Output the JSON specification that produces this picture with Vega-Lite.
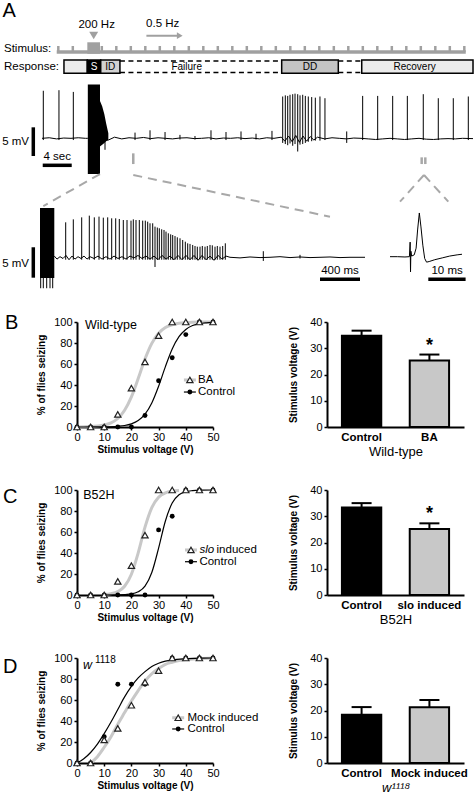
{
"$schema":"https://vega.github.io/schema/vega-lite/v6.json",
"padding":0,
"background":"white",
"bounds":"flush",
"spacing":32,
"config":{"font":"Liberation Sans","view":{"stroke":null},
 "axis":{"domainColor":"black","domainWidth":2,"tickColor":"black","tickWidth":1.5,"tickSize":3,"labelColor":"black","labelFontSize":11,"labelPadding":2,"labelOverlap":false,"labelSeparation":-40,"labelBound":false,"titleColor":"black","titleFontSize":10,"titleFontWeight":"bold","grid":false,"labelFont":"Liberation Sans","titleFont":"Liberation Sans"},
 "axisQuantitative":{"labelOverlap":false,"labelSeparation":-40},
 "text":{"font":"Liberation Sans","color":"black"}},
"vconcat":[
{
"width":474,"height":290,
"resolve":{"scale":{"x":"independent","y":"independent"}},
"layer":[
 {"layer":[
  {"data":{"values":[{"t":2.03,"t2":58.45}]},"mark":{"type":"rule","color":"#a0a0a0","strokeWidth":3.5},
   "encoding":{"x":{"field":"t","type":"quantitative","scale":{"domain":[-5.793,59.586],"nice":false,"zero":false},"axis":null},"x2":{"field":"t2"},
   "y":{"datum":0,"type":"quantitative","scale":{"domain":[-39.667,8.667],"nice":false,"zero":false},"axis":null}}},
  {"data":{"values":[{"t":2.25},{"t":4.25},{"t":8.25},{"t":10.25},{"t":12.25},{"t":14.25},{"t":16.25},{"t":18.25},{"t":20.25},{"t":22.25},{"t":24.25},{"t":26.25},{"t":28.25},{"t":30.25},{"t":32.25},{"t":34.25},{"t":36.25},{"t":38.25},{"t":40.25},{"t":42.25},{"t":44.25},{"t":46.25},{"t":48.25},{"t":50.25},{"t":52.25},{"t":54.25},{"t":56.25},{"t":58.25}]},
   "mark":{"type":"rule","color":"#a0a0a0","strokeWidth":2.5},
   "encoding":{"x":{"field":"t","type":"quantitative"},"y":{"datum":0,"type":"quantitative"},"y2":{"datum":1.0}}},
  {"data":{"values":[{"t":6.25,"t2":8.0}]},"mark":{"type":"rect","color":"#a0a0a0"},
   "encoding":{"x":{"field":"t","type":"quantitative"},"x2":{"field":"t2"},"y":{"datum":-0.3,"type":"quantitative"},"y2":{"datum":1.62}}},
  {"data":{"values":[{"t":7.13}]},"mark":{"type":"point","shape":"triangle-down","filled":true,"color":"#a0a0a0","size":80,"opacity":1},
   "encoding":{"x":{"field":"t","type":"quantitative"},"y":{"datum":2.75,"type":"quantitative"}}},
  {"data":{"values":[{"t":14.4,"t2":18.9}]},"mark":{"type":"rule","color":"#a0a0a0","strokeWidth":2},
   "encoding":{"x":{"field":"t","type":"quantitative"},"x2":{"field":"t2"},"y":{"datum":2.72,"type":"quantitative"}}},
  {"data":{"values":[{"t":19.0}]},"mark":{"type":"point","shape":"triangle-right","filled":true,"color":"#a0a0a0","size":45,"opacity":1},
   "encoding":{"x":{"field":"t","type":"quantitative"},"y":{"datum":2.72,"type":"quantitative"}}},
  {"data":{"values":[{"t":-5.45,"lv":5.83,"label":"A"}]},
   "mark":{"type":"text","fontSize":20,"align":"left","baseline":"alphabetic","color":"black"},
   "encoding":{"x":{"field":"t","type":"quantitative"},"y":{"field":"lv","type":"quantitative"},"text":{"field":"label"}}},
  {"data":{"values":[{"t":7.54,"lv":4.5,"label":"200 Hz"},{"t":16.65,"lv":4.67,"label":"0.5 Hz"}]},
   "mark":{"type":"text","fontSize":11.5,"align":"center","baseline":"middle","color":"black"},
   "encoding":{"x":{"field":"t","type":"quantitative"},"y":{"field":"lv","type":"quantitative"},"text":{"field":"label"}}},
  {"data":{"values":[{"t":-5.24,"lv":0.58,"label":"Stimulus:"},{"t":-5.24,"lv":-2.5,"label":"Response:"}]},
   "mark":{"type":"text","fontSize":11.5,"align":"left","baseline":"middle","color":"black"},
   "encoding":{"x":{"field":"t","type":"quantitative"},"y":{"field":"lv","type":"quantitative"},"text":{"field":"label"}}},
  {"data":{"values":[{"phase":"pre","t":3.03,"t2":6.25},{"phase":"S","t":6.25,"t2":8.1},{"phase":"ID","t":8.1,"t2":10.75},{"phase":"DD","t":33.06,"t2":40.87},{"phase":"Recovery","t":44.1,"t2":59.45}]},
   "mark":{"type":"rect","stroke":"black","strokeWidth":1.5},
   "encoding":{"x":{"field":"t","type":"quantitative"},"x2":{"field":"t2"},"y":{"datum":-3.55,"type":"quantitative"},"y2":{"datum":-1.333},
   "fill":{"condition":[{"test":"datum.phase === 'S'","value":"#000000"},{"test":"datum.phase === 'ID'","value":"#d2d2d2"},{"test":"datum.phase === 'DD'","value":"#c4c4c4"}],"value":"#ebebeb"}}},
  {"data":{"values":[{"t":10.75,"t2":33.06},{"t":40.87,"t2":44.1}]},"mark":{"type":"rule","color":"black","strokeWidth":1.5,"strokeDash":[5,3.5]},
   "encoding":{"x":{"field":"t","type":"quantitative"},"x2":{"field":"t2"},"y":{"datum":-1.5,"type":"quantitative"}}},
  {"data":{"values":[{"t":10.75,"t2":33.06},{"t":40.87,"t2":44.1}]},"mark":{"type":"rule","color":"black","strokeWidth":1.5,"strokeDash":[5,3.5]},
   "encoding":{"x":{"field":"t","type":"quantitative"},"x2":{"field":"t2"},"y":{"datum":-3.417,"type":"quantitative"}}},
  {"data":{"values":[{"t":9.42,"label":"ID"},{"t":19.96,"label":"Failure"},{"t":36.97,"label":"DD"},{"t":51.4,"label":"Recovery"}]},
   "mark":{"type":"text","fontSize":10,"align":"center","baseline":"middle","color":"black"},
   "encoding":{"x":{"field":"t","type":"quantitative"},"y":{"datum":-2.45,"type":"quantitative"},"text":{"field":"label"}}},
  {"data":{"values":[{"t":7.17,"label":"S"}]},
   "mark":{"type":"text","fontSize":10,"align":"center","baseline":"middle","color":"white"},
   "encoding":{"x":{"field":"t","type":"quantitative"},"y":{"datum":-2.45,"type":"quantitative"},"text":{"field":"label"}}}
 ]},
 {"layer":[
  {"data":{"values":[{"t":0,"v":0},{"t":1,"v":0.1},{"t":2,"v":-0.1},{"t":3,"v":0.05},{"t":4,"v":0},{"t":5,"v":0.1},{"t":6,"v":0},{"t":6.3,"v":0},{"t":9.15,"v":-0.3},{"t":10,"v":0.2},{"t":11,"v":-0.1},{"t":12,"v":0.1},{"t":13,"v":0},{"t":14,"v":0.15},{"t":15,"v":-0.05},{"t":16,"v":0.1},{"t":17,"v":0},{"t":18,"v":-0.1},{"t":19,"v":0.05},{"t":20,"v":0.1},{"t":21,"v":-0.05},{"t":22,"v":0},{"t":23,"v":0.1},{"t":24,"v":-0.1},{"t":25,"v":0.05},{"t":26,"v":0},{"t":27,"v":0.1},{"t":28,"v":-0.05},{"t":29,"v":0.05},{"t":30,"v":-0.1},{"t":31,"v":0.1},{"t":32,"v":0},{"t":33,"v":0.2},{"t":33.5,"v":-0.5},{"t":34,"v":0.4},{"t":34.5,"v":-0.6},{"t":35,"v":0.5},{"t":35.5,"v":-0.7},{"t":36,"v":0.4},{"t":36.5,"v":-0.5},{"t":37,"v":0.3},{"t":37.5,"v":-0.3},{"t":38,"v":0.2},{"t":39,"v":-0.1},{"t":40,"v":0.1},{"t":41,"v":0},{"t":42,"v":-0.1},{"t":43,"v":0.05},{"t":44,"v":0},{"t":45,"v":-0.1},{"t":46,"v":-0.2},{"t":47,"v":-0.1},{"t":48,"v":0},{"t":49,"v":-0.1},{"t":50,"v":-0.2},{"t":51,"v":-0.1},{"t":52,"v":0},{"t":53,"v":-0.15},{"t":54,"v":-0.2},{"t":55,"v":-0.1},{"t":56,"v":-0.05},{"t":57,"v":-0.1},{"t":58,"v":0},{"t":59.45,"v":-0.05}]},
   "mark":{"type":"line","color":"black","strokeWidth":1},
   "encoding":{"x":{"field":"t","type":"quantitative","scale":{"domain":[-5.793,59.586],"nice":false,"zero":false},"axis":null},
   "y":{"field":"v","type":"quantitative","scale":{"domain":[-26.47,24.14],"nice":false,"zero":false},"axis":null}}},
  {"data":{"values":[{"t":0.18,"lo":-0.3,"hi":8.3},{"t":2.34,"lo":-0.3,"hi":8.4},{"t":4.32,"lo":-0.3,"hi":8.1},
   {"t":8.69,"lo":-2.0,"hi":1.5},{"t":12.83,"lo":-0.3,"hi":1.0},{"t":14.9,"lo":-0.3,"hi":1.4},{"t":16.97,"lo":-0.3,"hi":1.1},{"t":19.03,"lo":-0.2,"hi":0.6},{"t":21.1,"lo":-0.2,"hi":0.4},{"t":23.31,"lo":-0.3,"hi":1.4},{"t":25.38,"lo":-0.3,"hi":1.1},{"t":27.45,"lo":-0.3,"hi":1.2},{"t":29.52,"lo":-0.2,"hi":0.8},{"t":31.72,"lo":-0.3,"hi":1.3},
   {"t":33.2,"lo":-0.8,"hi":7.3},{"t":33.56,"lo":-1.0,"hi":7.5},{"t":33.89,"lo":-1.2,"hi":7.4},{"t":34.21,"lo":-0.9,"hi":7.6},{"t":34.58,"lo":-1.3,"hi":7.7},{"t":34.9,"lo":-1.0,"hi":7.8},{"t":35.27,"lo":-2.3,"hi":7.7},{"t":35.59,"lo":-1.1,"hi":7.5},{"t":35.96,"lo":-1.0,"hi":7.6},{"t":36.32,"lo":-0.8,"hi":7.4},{"t":36.73,"lo":-0.6,"hi":7.3},{"t":37.2,"lo":-0.5,"hi":7.2},{"t":37.7,"lo":-0.4,"hi":7.1},{"t":38.34,"lo":-0.4,"hi":7.3},{"t":39.03,"lo":-0.3,"hi":7.0},
   {"t":42.03,"lo":-0.8,"hi":1.2},
   {"t":44.23,"lo":-0.3,"hi":7.4},{"t":46.3,"lo":-0.3,"hi":7.4},{"t":48.37,"lo":-0.3,"hi":7.4},{"t":50.39,"lo":-0.3,"hi":7.4},{"t":52.59,"lo":-0.3,"hi":7.7},{"t":54.66,"lo":-0.3,"hi":7.0},{"t":56.73,"lo":-0.3,"hi":7.0},{"t":58.8,"lo":-0.3,"hi":7.3}]},
   "mark":{"type":"rule","color":"black","strokeWidth":1},
   "encoding":{"x":{"field":"t","type":"quantitative"},"y":{"field":"lo","type":"quantitative"},"y2":{"field":"hi"}}},
  {"data":{"values":[{"t":6.32,"t2":8.0,"lo":-6.23,"hi":9.41}]},"mark":{"type":"rect","color":"black"},
   "encoding":{"x":{"field":"t","type":"quantitative"},"x2":{"field":"t2"},"y":{"field":"lo","type":"quantitative"},"y2":{"field":"hi"}}},
  {"data":{"values":[{"t":7.9,"lo":-1.5,"hi":6.8},{"t":8.3,"lo":-1.1,"hi":5.6},{"t":8.6,"lo":-0.8,"hi":4.2},{"t":8.85,"lo":-0.5,"hi":2.6},{"t":9.15,"lo":-0.3,"hi":0.9}]},
   "mark":{"type":"area","color":"black","opacity":1},
   "encoding":{"x":{"field":"t","type":"quantitative"},"y":{"field":"lo","type":"quantitative"},"y2":{"field":"hi"}}},
  {"data":{"values":[{"t":-1.2,"lo":-3.09,"hi":1.92}]},"mark":{"type":"rule","color":"black","strokeWidth":3.5},
   "encoding":{"x":{"field":"t","type":"quantitative"},"y":{"field":"lo","type":"quantitative"},"y2":{"field":"hi"}}},
  {"data":{"values":[{"t":0.1,"t2":4.1,"v":-4.71}]},"mark":{"type":"rule","color":"black","strokeWidth":3.5},
   "encoding":{"x":{"field":"t","type":"quantitative"},"x2":{"field":"t2"},"y":{"field":"v","type":"quantitative"}}},
  {"data":{"values":[{"t":-1.79,"v":-0.6,"label":"5 mV"}]},"mark":{"type":"text","fontSize":11.5,"align":"right","baseline":"middle","color":"black"},
   "encoding":{"x":{"field":"t","type":"quantitative"},"y":{"field":"v","type":"quantitative"},"text":{"field":"label"}}},
  {"data":{"values":[{"t":2.1,"v":-3.32,"label":"4 sec"}]},"mark":{"type":"text","fontSize":11.5,"align":"center","baseline":"middle","color":"black"},
   "encoding":{"x":{"field":"t","type":"quantitative"},"y":{"field":"v","type":"quantitative"},"text":{"field":"label"}}},
  {"data":{"values":[{"t":12.59,"lo":-4.49,"hi":-2.62},{"t":52.37,"lo":-4.49,"hi":-3.32},{"t":52.87,"lo":-4.49,"hi":-3.32}]},
   "mark":{"type":"rule","color":"#a8a8a8","strokeWidth":2.5},
   "encoding":{"x":{"field":"t","type":"quantitative"},"y":{"field":"lo","type":"quantitative"},"y2":{"field":"hi"}}},
  {"data":{"values":[{"t":8.0,"v":-6.23,"t2":0.18,"v2":-11.82},{"t":12.59,"v":-6.4,"t2":39.72,"v2":-13.68},{"t":52.69,"v":-6.4,"t2":49.38,"v2":-11.06},{"t":52.69,"v":-6.4,"t2":56.04,"v2":-11.06}]},
   "mark":{"type":"rule","color":"#a8a8a8","strokeWidth":2,"strokeDash":[9,6]},
   "encoding":{"x":{"field":"t","type":"quantitative"},"x2":{"field":"t2"},"y":{"field":"v","type":"quantitative"},"y2":{"field":"v2"}}}
 ]},
 {"layer":[
  {"data":{"values":[{"ms":0,"ms2":143,"lo":-3.4,"hi":8.1}]},"mark":{"type":"rect","color":"black"},
   "encoding":{"x":{"field":"ms","type":"quantitative","scale":{"domain":[-400,4340],"nice":false,"zero":false},"axis":null},"x2":{"field":"ms2"},
   "y":{"field":"lo","type":"quantitative","scale":{"domain":[-5.39,42.39],"nice":false,"zero":false},"axis":null},"y2":{"field":"hi"}}},
  {"data":{"values":[{"ms":7,"lo":-5.1,"hi":-3.0},{"ms":33,"lo":-5.1,"hi":-3.0},{"ms":67,"lo":-5.1,"hi":-3.0},{"ms":100,"lo":-5.1,"hi":-3.0},{"ms":127,"lo":-5.1,"hi":-3.0}]},
   "mark":{"type":"rule","color":"black","strokeWidth":1},
   "encoding":{"x":{"field":"ms","type":"quantitative"},"y":{"field":"lo","type":"quantitative"},"y2":{"field":"hi"}}},
  {"data":{"values":[{"ms":143,"mv":0.2},{"ms":170,"mv":-0.3},{"ms":200,"mv":0.1},{"ms":230,"mv":-0.2},{"ms":260,"mv":0.3},{"ms":290,"mv":-0.4},{"ms":320,"mv":0.2},{"ms":350,"mv":-0.3},{"ms":380,"mv":0.1},{"ms":410,"mv":-0.2},{"ms":440,"mv":0.2},{"ms":470,"mv":-0.3},{"ms":500,"mv":0.1},{"ms":540,"mv":-0.2},{"ms":580,"mv":0.2},{"ms":620,"mv":-0.3},{"ms":660,"mv":0.1},{"ms":700,"mv":-0.3},{"ms":740,"mv":0.2},{"ms":780,"mv":-0.2},{"ms":820,"mv":0.1},{"ms":860,"mv":-0.3},{"ms":900,"mv":0.2},{"ms":940,"mv":-0.1},{"ms":980,"mv":0.3},{"ms":1020,"mv":-0.2},{"ms":1060,"mv":0.2},{"ms":1100,"mv":-0.3},{"ms":1140,"mv":0.2},{"ms":1180,"mv":-0.4},{"ms":1220,"mv":0.3},{"ms":1260,"mv":-0.3},{"ms":1300,"mv":0.2},{"ms":1340,"mv":-0.4},{"ms":1380,"mv":0.3},{"ms":1420,"mv":-0.4},{"ms":1460,"mv":0.3},{"ms":1500,"mv":-0.4},{"ms":1540,"mv":0.3},{"ms":1580,"mv":-0.5},{"ms":1620,"mv":0.3},{"ms":1660,"mv":-0.4},{"ms":1700,"mv":0.2},{"ms":1740,"mv":-0.5},{"ms":1780,"mv":0.3},{"ms":1820,"mv":-0.3},{"ms":1860,"mv":0.2},{"ms":1900,"mv":0},{"ms":2000,"mv":-0.1},{"ms":2100,"mv":0.05},{"ms":2200,"mv":-0.05},{"ms":2300,"mv":0},{"ms":2400,"mv":0.1},{"ms":2500,"mv":-0.05},{"ms":2600,"mv":0.05},{"ms":2700,"mv":-0.05},{"ms":2800,"mv":0},{"ms":2900,"mv":0.05},{"ms":3000,"mv":-0.05},{"ms":3100,"mv":0},{"ms":3250,"mv":0}]},
   "mark":{"type":"line","color":"black","strokeWidth":1},
   "encoding":{"x":{"field":"ms","type":"quantitative"},"y":{"field":"mv","type":"quantitative"}}},
  {"data":{"values":[{"ms":257,"lo":-0.4,"hi":5.76},{"ms":333,"lo":-0.4,"hi":6.25},{"ms":417,"lo":-0.4,"hi":6.58},{"ms":493,"lo":-0.4,"hi":6.86},{"ms":543,"lo":-0.4,"hi":6.58},{"ms":590,"lo":-0.4,"hi":6.7},{"ms":633,"lo":-0.4,"hi":6.53},{"ms":677,"lo":-0.4,"hi":6.58},{"ms":717,"lo":-0.4,"hi":6.42},{"ms":757,"lo":-0.4,"hi":6.42},{"ms":793,"lo":-0.4,"hi":6.31},{"ms":833,"lo":-0.4,"hi":6.14},{"ms":870,"lo":-0.4,"hi":6.14},{"ms":910,"lo":-0.4,"hi":6.04},{"ms":933,"lo":-0.4,"hi":6.25},{"ms":960,"lo":-0.4,"hi":6.14},{"ms":993,"lo":-0.4,"hi":6.14},{"ms":1027,"lo":-0.4,"hi":6.04},{"ms":1053,"lo":-0.4,"hi":6.04},{"ms":1077,"lo":-0.4,"hi":5.87},{"ms":1100,"lo":-0.4,"hi":5.6},{"ms":1127,"lo":-0.4,"hi":5.6},{"ms":1150,"lo":-1.6,"hi":5.05},{"ms":1173,"lo":-0.4,"hi":4.9},{"ms":1193,"lo":-0.4,"hi":4.78},{"ms":1217,"lo":-0.4,"hi":4.61},{"ms":1240,"lo":-0.4,"hi":4.5},{"ms":1260,"lo":-0.4,"hi":4.23},{"ms":1283,"lo":-0.4,"hi":3.95},{"ms":1307,"lo":-0.4,"hi":3.78},{"ms":1327,"lo":-0.4,"hi":3.67},{"ms":1350,"lo":-0.4,"hi":3.5},{"ms":1373,"lo":-0.4,"hi":3.29},{"ms":1400,"lo":-0.4,"hi":3.13},{"ms":1427,"lo":-0.4,"hi":2.85},{"ms":1453,"lo":-0.4,"hi":2.57},{"ms":1477,"lo":-0.4,"hi":2.3},{"ms":1500,"lo":-0.4,"hi":2.2},{"ms":1527,"lo":-0.4,"hi":2.03},{"ms":1550,"lo":-0.4,"hi":1.86},{"ms":1573,"lo":-0.4,"hi":1.75},{"ms":1600,"lo":-0.4,"hi":1.75},{"ms":1623,"lo":-0.4,"hi":1.86},{"ms":1650,"lo":-0.4,"hi":1.75},{"ms":1673,"lo":-0.4,"hi":1.86},{"ms":1700,"lo":-0.4,"hi":2.03},{"ms":1723,"lo":-0.4,"hi":1.97},{"ms":1750,"lo":-0.4,"hi":1.75},{"ms":1773,"lo":-0.4,"hi":1.86},{"ms":1800,"lo":-0.4,"hi":1.75},{"ms":1827,"lo":-0.4,"hi":1.86},{"ms":1853,"lo":-0.4,"hi":2.3},{"ms":2233,"lo":-0.6,"hi":1.0},{"ms":2600,"lo":-0.2,"hi":0.4}]},
   "mark":{"type":"rule","color":"black","strokeWidth":1},
   "encoding":{"x":{"field":"ms","type":"quantitative"},"y":{"field":"lo","type":"quantitative"},"y2":{"field":"hi"}}},
  {"data":{"values":[{"ms":-67,"lo":-3.36,"hi":1.65}]},"mark":{"type":"rule","color":"black","strokeWidth":3.5},
   "encoding":{"x":{"field":"ms","type":"quantitative"},"y":{"field":"lo","type":"quantitative"},"y2":{"field":"hi"}}},
  {"data":{"values":[{"ms":2800,"ms2":3200,"mv":-3.62}]},"mark":{"type":"rule","color":"black","strokeWidth":3.5},
   "encoding":{"x":{"field":"ms","type":"quantitative"},"x2":{"field":"ms2"},"y":{"field":"mv","type":"quantitative"}}},
  {"data":{"values":[{"ms":-110,"mv":-1.1,"label":"5 mV"}]},"mark":{"type":"text","fontSize":11.5,"align":"right","baseline":"middle","color":"black"},
   "encoding":{"x":{"field":"ms","type":"quantitative"},"y":{"field":"mv","type":"quantitative"},"text":{"field":"label"}}},
  {"data":{"values":[{"ms":3000,"mv":-2.83,"label":"400 ms"}]},"mark":{"type":"text","fontSize":11.5,"align":"center","baseline":"alphabetic","color":"black"},
   "encoding":{"x":{"field":"ms","type":"quantitative"},"y":{"field":"mv","type":"quantitative"},"text":{"field":"label"}}}
 ]},
 {"layer":[
  {"data":{"values":[{"ms":0,"mv":0.1},{"ms":2,"mv":0.1},{"ms":4,"mv":0.05},{"ms":5.2,"mv":0.1},{"ms":5.4,"mv":2.5},{"ms":5.5,"mv":-2.4},{"ms":5.6,"mv":1.0},{"ms":5.8,"mv":0.2},{"ms":6.5,"mv":0.4},{"ms":7.0,"mv":1.5},{"ms":7.4,"mv":4.5},{"ms":7.86,"mv":7.3},{"ms":8.3,"mv":5.0},{"ms":8.8,"mv":2.0},{"ms":9.3,"mv":-0.2},{"ms":9.8,"mv":-0.8},{"ms":10.5,"mv":-0.7},{"ms":12,"mv":-0.4},{"ms":14,"mv":-0.1},{"ms":16,"mv":0.2},{"ms":18,"mv":0.4},{"ms":19.3,"mv":0.5}]},
   "mark":{"type":"line","color":"black","strokeWidth":1},
   "encoding":{"x":{"field":"ms","type":"quantitative","scale":{"domain":[-104.56,22.52],"nice":false,"zero":false},"axis":null},
   "y":{"field":"mv","type":"quantitative","scale":{"domain":[-5.39,42.39],"nice":false,"zero":false},"axis":null}}},
  {"data":{"values":[{"ms":10.27,"ms2":20.27,"mv":-3.62}]},"mark":{"type":"rule","color":"black","strokeWidth":3.5},
   "encoding":{"x":{"field":"ms","type":"quantitative"},"x2":{"field":"ms2"},"y":{"field":"mv","type":"quantitative"}}},
  {"data":{"values":[{"ms":15.3,"mv":-2.83,"label":"10 ms"}]},"mark":{"type":"text","fontSize":11.5,"align":"center","baseline":"alphabetic","color":"black"},
   "encoding":{"x":{"field":"ms","type":"quantitative"},"y":{"field":"mv","type":"quantitative"},"text":{"field":"label"}}}
 ]}
]
},
{"columns":4,"spacing":{"row":63,"column":0},"bounds":"flush",
"concat":[
  {"width":77,"height":105,"data":{"values":[]},"mark":"point"},
  {"width":136,"height":105,
    "layer":[
     {"data":{"values":[{"V":0,"pct":0.1},{"V":5,"pct":0.4},{"V":10,"pct":1.9},{"V":12.5,"pct":4},{"V":15,"pct":8.1},{"V":17.5,"pct":15.9},{"V":20,"pct":28.7},{"V":22.5,"pct":46.2},{"V":25,"pct":64.7},{"V":27.5,"pct":79.6},{"V":30,"pct":89.3},{"V":32.5,"pct":94.7},{"V":35,"pct":97.4},{"V":37.5,"pct":98.8},{"V":40,"pct":99.4},{"V":45,"pct":99.9},{"V":50,"pct":100}]},
      "mark":{"type":"line","color":"#c8c8c8","strokeWidth":3,"interpolate":"monotone"},
      "encoding":{"x":{"field":"V","type":"quantitative","scale":{"domain":[0,50],"nice":false},"axis":{"values":[0,10,20,30,40,50],"tickCount":6,"labelOverlap":false,"labelSeparation":-40,"title":"Stimulus voltage (V)","labelFlush":false,"labelPadding":1,"titlePadding":2}},
       "y":{"field":"pct","type":"quantitative","scale":{"domain":[0,100],"nice":false},"axis":{"values":[0,20,40,60,80,100],"tickCount":6,"labelOverlap":false,"labelSeparation":-40,"title":"% of flies seizing","titlePadding":7}}}},
     {"data":{"values":[{"V":0,"pct":0},{"V":5,"pct":0.03},{"V":10,"pct":0.15},{"V":15,"pct":0.7},{"V":17.5,"pct":1.4},{"V":20,"pct":3.0},{"V":22.5,"pct":6.1},{"V":25,"pct":12.2},{"V":27.5,"pct":22.9},{"V":30,"pct":38.8},{"V":32.5,"pct":57.5},{"V":35,"pct":74.3},{"V":37.5,"pct":86.0},{"V":40,"pct":92.9},{"V":42.5,"pct":96.6},{"V":45,"pct":98.4},{"V":47.5,"pct":99.2},{"V":50,"pct":99.6}]},
      "mark":{"type":"line","color":"black","strokeWidth":1.2,"interpolate":"monotone"},
      "encoding":{"x":{"field":"V","type":"quantitative"},"y":{"field":"pct","type":"quantitative"}}},
     {"data":{"values":[{"V":0,"pct":0},{"V":5,"pct":0},{"V":10,"pct":0},{"V":15,"pct":0},{"V":20,"pct":0},{"V":25,"pct":11},{"V":30,"pct":44},{"V":35,"pct":66},{"V":40,"pct":88},{"V":45,"pct":100},{"V":50,"pct":100}]},
      "mark":{"type":"point","shape":"circle","filled":true,"color":"black","size":24,"opacity":1},
      "encoding":{"x":{"field":"V","type":"quantitative"},"y":{"field":"pct","type":"quantitative"}}},
     {"data":{"values":[{"V":0,"pct":0},{"V":5,"pct":0},{"V":10,"pct":0},{"V":15,"pct":12},{"V":20,"pct":37},{"V":25,"pct":62},{"V":30,"pct":87},{"V":35,"pct":100},{"V":40,"pct":100},{"V":45,"pct":100},{"V":50,"pct":100}]},
      "mark":{"type":"point","shape":"triangle-up","fill":"white","stroke":"#222222","strokeWidth":1.2,"size":40,"opacity":1},
      "encoding":{"x":{"field":"V","type":"quantitative"},"y":{"field":"pct","type":"quantitative"}}},
     {"data":{"values":[{"entry":"BA"}]},"mark":{"type":"rule","color":"#c8c8c8","strokeWidth":3},
      "encoding":{"x":{"datum":39.3,"type":"quantitative"},"x2":{"datum":43.7},"y":{"datum":44.8,"type":"quantitative"}}},
     {"data":{"values":[{"entry":"BA"}]},"mark":{"type":"point","shape":"triangle-up","fill":"white","stroke":"#222222","strokeWidth":1.2,"size":40,"opacity":1},
      "encoding":{"x":{"datum":41.5,"type":"quantitative"},"y":{"datum":44.8,"type":"quantitative"}}},
     {"data":{"values":[{"entry":"BA"}]},"mark":{"type":"text","align":"left","baseline":"middle","fontSize":11.5,"color":"black"},
      "encoding":{"x":{"datum":44.5,"type":"quantitative"},"y":{"datum":44.8,"type":"quantitative"},"text":{"field":"entry"}}},
     {"data":{"values":[{"entry":"Control"}]},"mark":{"type":"rule","color":"black","strokeWidth":1.2},
      "encoding":{"x":{"datum":39.3,"type":"quantitative"},"x2":{"datum":43.7},"y":{"datum":33.3,"type":"quantitative"}}},
     {"data":{"values":[{"entry":"Control"}]},"mark":{"type":"point","shape":"circle","filled":true,"color":"black","size":24,"opacity":1},
      "encoding":{"x":{"datum":41.5,"type":"quantitative"},"y":{"datum":33.3,"type":"quantitative"}}},
     {"data":{"values":[{"entry":"Control"}]},"mark":{"type":"text","align":"left","baseline":"middle","fontSize":11.5,"color":"black"},
      "encoding":{"x":{"datum":44.5,"type":"quantitative"},"y":{"datum":33.3,"type":"quantitative"},"text":{"field":"entry"}}},
     {"data":{"values":[{"label":"Wild-type"}]},"mark":{"type":"text","align":"left","baseline":"middle","fontSize":12.5,"color":"black"},
      "encoding":{"x":{"datum":2.9,"type":"quantitative"},"y":{"datum":97,"type":"quantitative"},"text":{"field":"label"}}},
     {"data":{"values":[{"label":"B"}]},"mark":{"type":"text","align":"left","baseline":"alphabetic","fontSize":20,"color":"black"},
      "encoding":{"x":{"datum":-26.5,"type":"quantitative"},"y":{"datum":92.9,"type":"quantitative"},"text":{"field":"label"}}}
    ]},
  {"width":114,"height":105,"data":{"values":[]},"mark":"point"},
  {"width":137,"height":105,
    "data":{"values":[{"grp":"Control","mean":34.8,"upper":36.7,"sig":""},{"grp":"BA","mean":25.3,"upper":27.6,"sig":"*"}]},
    "encoding":{"x":{"field":"grp","type":"nominal","sort":null,"scale":{"paddingInner":0.42,"paddingOuter":0.22},"axis":{"title":"Wild-type","labelAngle":0,"labelOverlap":false,"ticks":false,"labelPadding":4,"labelFontWeight":"bold","labelFontSize":11.5,"titleFontWeight":"normal","titleFontSize":13,"titlePadding":3}}},
    "layer":[
     {"mark":{"type":"bar","stroke":"black","strokeWidth":2},
      "encoding":{"y":{"field":"mean","type":"quantitative","scale":{"domain":[0,40],"nice":false},"axis":{"values":[0,10,20,30,40],"tickCount":5,"labelOverlap":false,"labelSeparation":-40,"title":"Stimulus voltage (V)","titlePadding":11}},
       "fill":{"condition":{"test":"datum.grp === 'Control'","value":"#000000"},"value":"#c8c8c8"}}},
     {"mark":{"type":"rule","color":"black","strokeWidth":2},"encoding":{"y":{"field":"mean","type":"quantitative"},"y2":{"field":"upper"}}},
     {"mark":{"type":"tick","color":"black","thickness":2,"size":20,"opacity":1},"encoding":{"y":{"field":"upper","type":"quantitative"}}},
     {"mark":{"type":"text","fontSize":18,"fontWeight":"bold","baseline":"alphabetic","dy":-4,"color":"black"},"encoding":{"y":{"field":"upper","type":"quantitative"},"text":{"field":"sig"}}}
    ]},
  {"width":77,"height":105,"data":{"values":[]},"mark":"point"},
  {"width":136,"height":105,
    "layer":[
     {"data":{"values":[{"V":10,"pct":0.45},{"V":12.5,"pct":1.2},{"V":15,"pct":3.2},{"V":17.5,"pct":8.3},{"V":20,"pct":19.8},{"V":22.5,"pct":40.1},{"V":25,"pct":64.6},{"V":27.5,"pct":83.2},{"V":30,"pct":93.1},{"V":32.5,"pct":97.3},{"V":35,"pct":99.0},{"V":37.5,"pct":99.6}]},
      "mark":{"type":"line","color":"#c8c8c8","strokeWidth":3,"interpolate":"monotone"},
      "encoding":{"x":{"field":"V","type":"quantitative","scale":{"domain":[0,50],"nice":false},"axis":{"values":[0,10,20,30,40,50],"tickCount":6,"labelOverlap":false,"labelSeparation":-40,"title":"Stimulus voltage (V)","labelFlush":false,"labelPadding":1,"titlePadding":2}},
       "y":{"field":"pct","type":"quantitative","scale":{"domain":[0,100],"nice":false},"axis":{"values":[0,20,40,60,80,100],"tickCount":6,"labelOverlap":false,"labelSeparation":-40,"title":"% of flies seizing","titlePadding":7}}}},
     {"data":{"values":[{"V":10,"pct":0.01},{"V":15,"pct":0.12},{"V":20,"pct":1.0},{"V":22.5,"pct":3.0},{"V":25,"pct":8.4},{"V":27.5,"pct":21.4},{"V":30,"pct":44.6},{"V":32.5,"pct":70.5},{"V":35,"pct":87.6},{"V":37.5,"pct":95.4},{"V":40,"pct":98.4},{"V":42.5,"pct":99.4},{"V":45,"pct":99.8},{"V":50,"pct":100}]},
      "mark":{"type":"line","color":"black","strokeWidth":1.2,"interpolate":"monotone"},
      "encoding":{"x":{"field":"V","type":"quantitative"},"y":{"field":"pct","type":"quantitative"}}},
     {"data":{"values":[{"V":0,"pct":0},{"V":5,"pct":0},{"V":10,"pct":0},{"V":15,"pct":0},{"V":20,"pct":0},{"V":25,"pct":0},{"V":30,"pct":62},{"V":35,"pct":75},{"V":40,"pct":100},{"V":45,"pct":100},{"V":50,"pct":100}]},
      "mark":{"type":"point","shape":"circle","filled":true,"color":"black","size":24,"opacity":1},
      "encoding":{"x":{"field":"V","type":"quantitative"},"y":{"field":"pct","type":"quantitative"}}},
     {"data":{"values":[{"V":0,"pct":0},{"V":5,"pct":0},{"V":10,"pct":0},{"V":15,"pct":13},{"V":20,"pct":28},{"V":25,"pct":57},{"V":30,"pct":100},{"V":35,"pct":100},{"V":40,"pct":100},{"V":45,"pct":100},{"V":50,"pct":100}]},
      "mark":{"type":"point","shape":"triangle-up","fill":"white","stroke":"#222222","strokeWidth":1.2,"size":40,"opacity":1},
      "encoding":{"x":{"field":"V","type":"quantitative"},"y":{"field":"pct","type":"quantitative"}}},
     {"data":{"values":[{"entry":"slo"}]},"mark":{"type":"rule","color":"#c8c8c8","strokeWidth":3},
      "encoding":{"x":{"datum":39.7,"type":"quantitative"},"x2":{"datum":44.1},"y":{"datum":42.9,"type":"quantitative"}}},
     {"data":{"values":[{"entry":"slo"}]},"mark":{"type":"point","shape":"triangle-up","fill":"white","stroke":"#222222","strokeWidth":1.2,"size":40,"opacity":1},
      "encoding":{"x":{"datum":41.9,"type":"quantitative"},"y":{"datum":42.9,"type":"quantitative"}}},
     {"data":{"values":[{"entry":"slo"}]},"mark":{"type":"text","align":"left","baseline":"middle","fontSize":11.5,"fontStyle":"italic","color":"black"},
      "encoding":{"x":{"datum":45.0,"type":"quantitative"},"y":{"datum":42.9,"type":"quantitative"},"text":{"field":"entry"}}},
     {"data":{"values":[{"entry":"induced"}]},"mark":{"type":"text","align":"left","baseline":"middle","fontSize":11.5,"color":"black"},
      "encoding":{"x":{"datum":51.3,"type":"quantitative"},"y":{"datum":42.9,"type":"quantitative"},"text":{"field":"entry"}}},
     {"data":{"values":[{"entry":"Control"}]},"mark":{"type":"rule","color":"black","strokeWidth":1.2},
      "encoding":{"x":{"datum":39.7,"type":"quantitative"},"x2":{"datum":44.1},"y":{"datum":31.7,"type":"quantitative"}}},
     {"data":{"values":[{"entry":"Control"}]},"mark":{"type":"point","shape":"circle","filled":true,"color":"black","size":24,"opacity":1},
      "encoding":{"x":{"datum":41.9,"type":"quantitative"},"y":{"datum":31.7,"type":"quantitative"}}},
     {"data":{"values":[{"entry":"Control"}]},"mark":{"type":"text","align":"left","baseline":"middle","fontSize":11.5,"color":"black"},
      "encoding":{"x":{"datum":45.0,"type":"quantitative"},"y":{"datum":31.7,"type":"quantitative"},"text":{"field":"entry"}}},
     {"data":{"values":[{"label":"B52H"}]},"mark":{"type":"text","align":"left","baseline":"middle","fontSize":12.5,"color":"black"},
      "encoding":{"x":{"datum":2.3,"type":"quantitative"},"y":{"datum":95,"type":"quantitative"},"text":{"field":"label"}}},
     {"data":{"values":[{"label":"C"}]},"mark":{"type":"text","align":"left","baseline":"alphabetic","fontSize":20,"color":"black"},
      "encoding":{"x":{"datum":-27.2,"type":"quantitative"},"y":{"datum":87.6,"type":"quantitative"},"text":{"field":"label"}}}
    ]},
  {"width":114,"height":105,"data":{"values":[]},"mark":"point"},
  {"width":137,"height":105,
    "data":{"values":[{"grp":"Control","mean":33.3,"upper":35.0,"sig":""},{"grp":"slo induced","mean":25.1,"upper":27.3,"sig":"*"}]},
    "encoding":{"x":{"field":"grp","type":"nominal","sort":null,"scale":{"paddingInner":0.42,"paddingOuter":0.22},"axis":{"title":"B52H","labelAngle":0,"labelOverlap":false,"ticks":false,"labelPadding":4,"labelFontWeight":"bold","labelFontSize":11.5,"titleFontWeight":"normal","titleFontSize":13,"titlePadding":3}}},
    "layer":[
     {"mark":{"type":"bar","stroke":"black","strokeWidth":2},
      "encoding":{"y":{"field":"mean","type":"quantitative","scale":{"domain":[0,40],"nice":false},"axis":{"values":[0,10,20,30,40],"tickCount":5,"labelOverlap":false,"labelSeparation":-40,"title":"Stimulus voltage (V)","titlePadding":11}},
       "fill":{"condition":{"test":"datum.grp === 'Control'","value":"#000000"},"value":"#c8c8c8"}}},
     {"mark":{"type":"rule","color":"black","strokeWidth":2},"encoding":{"y":{"field":"mean","type":"quantitative"},"y2":{"field":"upper"}}},
     {"mark":{"type":"tick","color":"black","thickness":2,"size":20,"opacity":1},"encoding":{"y":{"field":"upper","type":"quantitative"}}},
     {"mark":{"type":"text","fontSize":18,"fontWeight":"bold","baseline":"alphabetic","dy":-4,"color":"black"},"encoding":{"y":{"field":"upper","type":"quantitative"},"text":{"field":"sig"}}}
    ]},
  {"width":77,"height":105,"data":{"values":[]},"mark":"point"},
  {"width":136,"height":105,
    "layer":[
     {"data":{"values":[{"V":5,"pct":0},{"V":7.5,"pct":6},{"V":10,"pct":15},{"V":12.5,"pct":25},{"V":15,"pct":37},{"V":17.5,"pct":48},{"V":20,"pct":59},{"V":22.5,"pct":69},{"V":25,"pct":78},{"V":27.5,"pct":85},{"V":30,"pct":90},{"V":32.5,"pct":94},{"V":35,"pct":96},{"V":37.5,"pct":97.5},{"V":40,"pct":98.5},{"V":45,"pct":99.5},{"V":50,"pct":100}]},
      "mark":{"type":"line","color":"#c8c8c8","strokeWidth":3,"interpolate":"monotone"},
      "encoding":{"x":{"field":"V","type":"quantitative","scale":{"domain":[0,50],"nice":false},"axis":{"values":[0,10,20,30,40,50],"tickCount":6,"labelOverlap":false,"labelSeparation":-40,"title":"Stimulus voltage (V)","labelFlush":false,"labelPadding":1,"titlePadding":2}},
       "y":{"field":"pct","type":"quantitative","scale":{"domain":[0,100],"nice":false},"axis":{"values":[0,20,40,60,80,100],"tickCount":6,"labelOverlap":false,"labelSeparation":-40,"title":"% of flies seizing","titlePadding":7}}}},
     {"data":{"values":[{"V":0,"pct":0},{"V":2.5,"pct":4},{"V":5,"pct":10},{"V":7.5,"pct":18},{"V":10,"pct":28},{"V":12.5,"pct":39},{"V":15,"pct":51},{"V":17.5,"pct":63},{"V":20,"pct":73},{"V":22.5,"pct":81},{"V":25,"pct":87},{"V":27.5,"pct":92},{"V":30,"pct":95},{"V":32.5,"pct":97},{"V":35,"pct":98.2},{"V":40,"pct":99.3},{"V":45,"pct":99.8},{"V":50,"pct":100}]},
      "mark":{"type":"line","color":"black","strokeWidth":1.2,"interpolate":"monotone"},
      "encoding":{"x":{"field":"V","type":"quantitative"},"y":{"field":"pct","type":"quantitative"}}},
     {"data":{"values":[{"V":0,"pct":0},{"V":5,"pct":0},{"V":10,"pct":25},{"V":15,"pct":75},{"V":20,"pct":75},{"V":25,"pct":75},{"V":35,"pct":100},{"V":40,"pct":100},{"V":45,"pct":100},{"V":50,"pct":100}]},
      "mark":{"type":"point","shape":"circle","filled":true,"color":"black","size":24,"opacity":1},
      "encoding":{"x":{"field":"V","type":"quantitative"},"y":{"field":"pct","type":"quantitative"}}},
     {"data":{"values":[{"V":0,"pct":0},{"V":5,"pct":0},{"V":10,"pct":22},{"V":15,"pct":33},{"V":20,"pct":55},{"V":25,"pct":77},{"V":30,"pct":88},{"V":35,"pct":100},{"V":40,"pct":100},{"V":45,"pct":100},{"V":50,"pct":100}]},
      "mark":{"type":"point","shape":"triangle-up","fill":"white","stroke":"#222222","strokeWidth":1.2,"size":40,"opacity":1},
      "encoding":{"x":{"field":"V","type":"quantitative"},"y":{"field":"pct","type":"quantitative"}}},
     {"data":{"values":[{"entry":"Mock induced"}]},"mark":{"type":"rule","color":"#c8c8c8","strokeWidth":3},
      "encoding":{"x":{"datum":35.0,"type":"quantitative"},"x2":{"datum":39.4},"y":{"datum":43.1,"type":"quantitative"}}},
     {"data":{"values":[{"entry":"Mock induced"}]},"mark":{"type":"point","shape":"triangle-up","fill":"white","stroke":"#222222","strokeWidth":1.2,"size":40,"opacity":1},
      "encoding":{"x":{"datum":37.2,"type":"quantitative"},"y":{"datum":43.1,"type":"quantitative"}}},
     {"data":{"values":[{"entry":"Mock induced"}]},"mark":{"type":"text","align":"left","baseline":"middle","fontSize":11.5,"color":"black"},
      "encoding":{"x":{"datum":40.6,"type":"quantitative"},"y":{"datum":43.1,"type":"quantitative"},"text":{"field":"entry"}}},
     {"data":{"values":[{"entry":"Control"}]},"mark":{"type":"rule","color":"black","strokeWidth":1.2},
      "encoding":{"x":{"datum":35.0,"type":"quantitative"},"x2":{"datum":39.4},"y":{"datum":32.4,"type":"quantitative"}}},
     {"data":{"values":[{"entry":"Control"}]},"mark":{"type":"point","shape":"circle","filled":true,"color":"black","size":24,"opacity":1},
      "encoding":{"x":{"datum":37.2,"type":"quantitative"},"y":{"datum":32.4,"type":"quantitative"}}},
     {"data":{"values":[{"entry":"Control"}]},"mark":{"type":"text","align":"left","baseline":"middle","fontSize":11.5,"color":"black"},
      "encoding":{"x":{"datum":40.6,"type":"quantitative"},"y":{"datum":32.4,"type":"quantitative"},"text":{"field":"entry"}}},
     {"data":{"values":[{"label":"w"}]},"mark":{"type":"text","align":"left","baseline":"alphabetic","fontSize":12.5,"fontStyle":"italic","color":"black"},
      "encoding":{"x":{"datum":2.2,"type":"quantitative"},"y":{"datum":90,"type":"quantitative"},"text":{"field":"label"}}},
     {"data":{"values":[{"label":"1118"}]},"mark":{"type":"text","align":"left","baseline":"alphabetic","fontSize":10,"color":"black"},
      "encoding":{"x":{"datum":6.6,"type":"quantitative"},"y":{"datum":95.5,"type":"quantitative"},"text":{"field":"label"}}},
     {"data":{"values":[{"label":"D"}]},"mark":{"type":"text","align":"left","baseline":"alphabetic","fontSize":20,"color":"black"},
      "encoding":{"x":{"datum":-27.2,"type":"quantitative"},"y":{"datum":85.7,"type":"quantitative"},"text":{"field":"label"}}}
    ]},
  {"width":114,"height":105,"data":{"values":[]},"mark":"point"},
  {"width":137,"height":105,
    "data":{"values":[{"grp":"Control","mean":18.4,"upper":21.3},{"grp":"Mock induced","mean":21.2,"upper":24.0}]},
    "encoding":{"x":{"field":"grp","type":"nominal","sort":null,"scale":{"paddingInner":0.42,"paddingOuter":0.22},"axis":{"title":"w¹¹¹⁸","titleFontStyle":"italic","labelAngle":0,"labelOverlap":false,"ticks":false,"labelPadding":4,"labelFontWeight":"bold","labelFontSize":11.5,"titleFontWeight":"normal","titleFontSize":13,"titlePadding":3}}},
    "layer":[
     {"mark":{"type":"bar","stroke":"black","strokeWidth":2},
      "encoding":{"y":{"field":"mean","type":"quantitative","scale":{"domain":[0,40],"nice":false},"axis":{"values":[0,10,20,30,40],"tickCount":5,"labelOverlap":false,"labelSeparation":-40,"title":"Stimulus voltage (V)","titlePadding":11}},
       "fill":{"condition":{"test":"datum.grp === 'Control'","value":"#000000"},"value":"#c8c8c8"}}},
     {"mark":{"type":"rule","color":"black","strokeWidth":2},"encoding":{"y":{"field":"mean","type":"quantitative"},"y2":{"field":"upper"}}},
     {"mark":{"type":"tick","color":"black","thickness":2,"size":20,"opacity":1},"encoding":{"y":{"field":"upper","type":"quantitative"}}}
    ]}
]}
]
}
